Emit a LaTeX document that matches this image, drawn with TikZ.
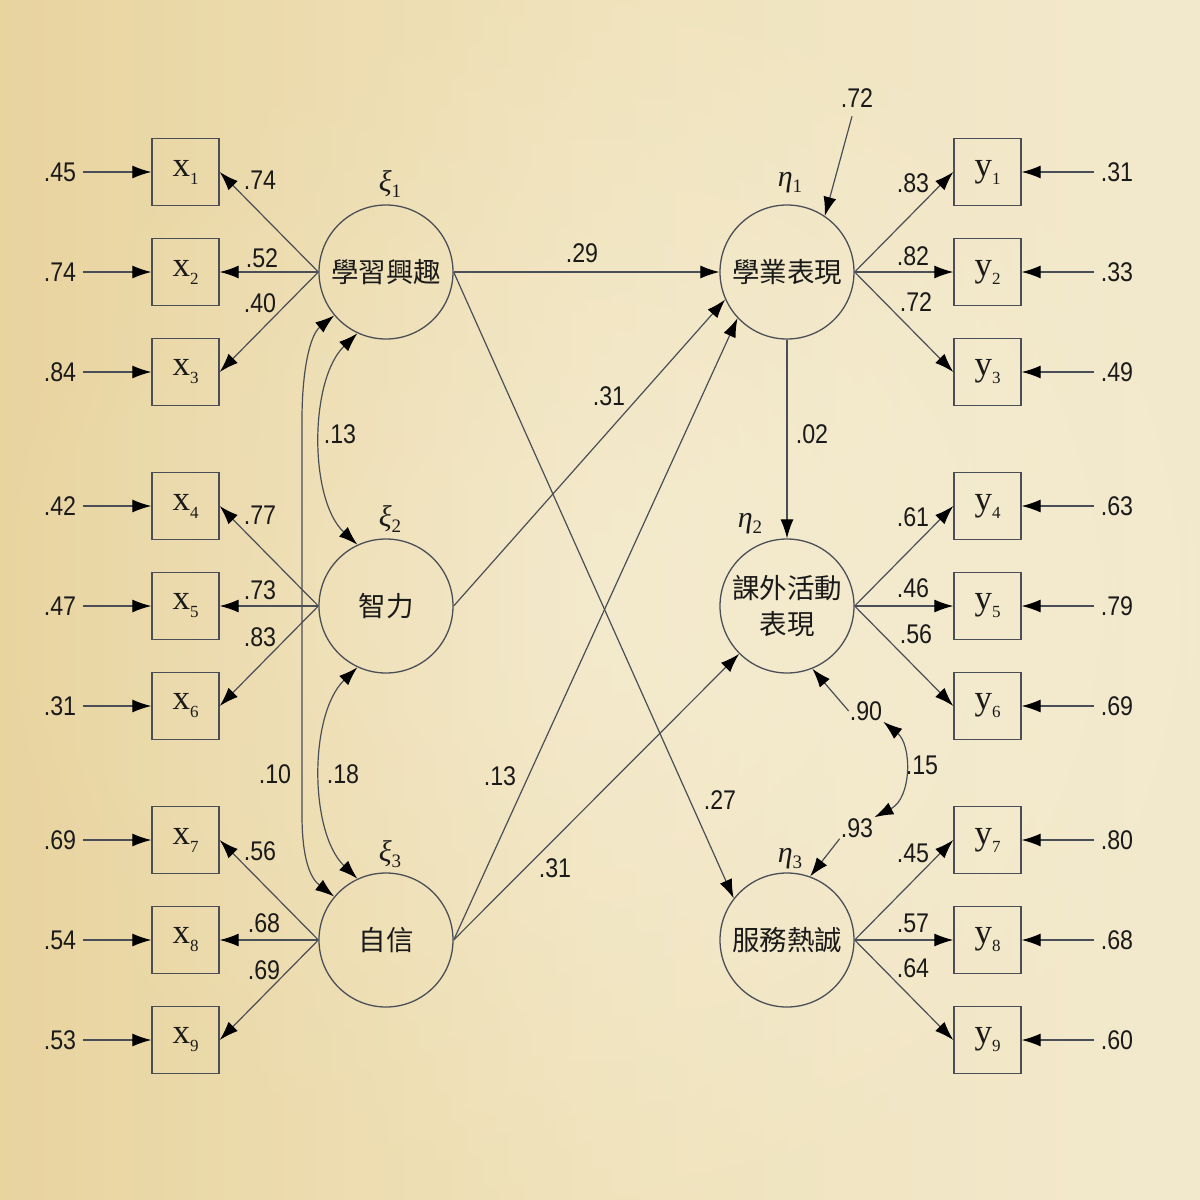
\documentclass[tikz,border=0pt]{standalone}
\usepackage{fontspec}
\setmainfont{Liberation Sans}[FakeStretch=0.86]
\newfontfamily\cjkfont{Noto Sans CJK TC}
\newfontfamily\boxfont{Liberation Serif}
\usetikzlibrary{arrows.meta}
\definecolor{ln}{HTML}{4A4E56}
\definecolor{bgL}{RGB}{230,207,150}
\definecolor{bgM}{RGB}{240,227,188}
\definecolor{bgR}{RGB}{244,236,212}
\definecolor{txt}{HTML}{1A1A1A}
\newcommand\osub[1]{\raisebox{-8pt}{\fontsize{17}{17}\selectfont #1}}
\newcommand\gsub[1]{\raisebox{-6pt}{\fontsize{19}{19}\selectfont\upshape #1}}
\begin{document}
\begin{tikzpicture}[x=1pt,y=-1pt,
  obs/.style={draw=ln, line width=1.4pt, minimum size=67pt, inner sep=0pt, text=txt,
    font=\boxfont\fontsize{35}{35}\selectfont},
  lat/.style={circle, draw=ln, line width=1.3pt, minimum size=134pt, inner sep=0pt, text=txt,
    align=center, font=\cjkfont\fontsize{27.5}{36}\selectfont},
  num/.style={font=\fontsize{27}{27}\selectfont, text=txt, inner sep=1pt},
  greek/.style={font=\boxfont\itshape\fontsize{30}{30}\selectfont, text=txt, inner sep=0pt},
  tip/.tip={Latex[length=19pt,width=13pt,color=black]},
  pth/.style={draw=ln, line width=1.2pt, -tip},
  dbl/.style={draw=ln, line width=1.2pt, tip-tip}
]
\useasboundingbox (0,0) rectangle (1200,1200);
\shade[left color=bgL, right color=bgR, middle color=bgM] (0,0) rectangle (1200,1200);
\shade[inner color=white, outer color=bgM, opacity=0.25] (0,0) rectangle (1200,1200);

% latent variables
\node[lat] (xi1) at (386,272) {學習興趣};
\node[lat] (xi2) at (386,606) {智力};
\node[lat] (xi3) at (386,940) {自信};
\node[lat] (eta1) at (787,272) {學業表現};
\node[lat] (eta2) at (787,606) {課外活動\\表現};
\node[lat] (eta3) at (787,940) {服務熱誠};

\node[greek] (g1) at (390,184) {ξ\gsub{1}};
\node[greek] (g2) at (390,519) {ξ\gsub{2}};
\node[greek] (g3) at (390,854) {ξ\gsub{3}};
\node[greek] (h1) at (790,183) {η\gsub{1}};
\node[greek] (h2) at (750,524) {η\gsub{2}};
\node[greek] (h3) at (790,859) {η\gsub{3}};

% x indicators
\foreach \i/\yy/\e/\lt/\ld/\lx/\ly in {
  1/172/.45/xi1/.74/260/180, 2/272/.74/xi1/.52/262/258, 3/372/.84/xi1/.40/260/303,
  4/506/.42/xi2/.77/260/515, 5/606/.47/xi2/.73/260/590, 6/706/.31/xi2/.83/260/637,
  7/840/.69/xi3/.56/260/851, 8/940/.54/xi3/.68/264/923, 9/1040/.53/xi3/.69/264/970}{
  \node[obs] (x\i) at (185.5,\yy) {x\osub{\i}};
  \node[num] (ex\i) at (60,\yy) {\e};
  \draw[pth, shorten <=6pt] (ex\i) -- (x\i);
  \draw[pth] (\lt.west) -- (x\i.east);
  \node[num] (lx\i) at (\lx,\ly) {\ld};
}
% y indicators
\foreach \i/\yy/\e/\lt/\ld/\lx/\ly in {
  1/172/.31/eta1/.83/913/183, 2/272/.33/eta1/.82/913/256, 3/372/.49/eta1/.72/916/302,
  4/506/.63/eta2/.61/913/517, 5/606/.79/eta2/.46/913/588, 6/706/.69/eta2/.56/916/634,
  7/840/.80/eta3/.45/913/853, 8/940/.68/eta3/.57/913/923, 9/1040/.60/eta3/.64/913/968}{
  \node[obs] (y\i) at (987.5,\yy) {y\osub{\i}};
  \node[num] (ey\i) at (1117,\yy) {\e};
  \draw[pth, shorten <=6pt] (ey\i) -- (y\i);
  \draw[pth] (\lt.east) -- (y\i.west);
  \node[num] (ly\i) at (\lx,\ly) {\ld};
}

% structural paths
\draw[pth] (xi1.east) -- (eta1.west);
\node[num] (p1) at (582,253) {.29};
\draw[pth] (xi1.east) -- (eta3.142);
\node[num] (p2) at (720,800) {.27};
\draw[pth] (xi2.east) -- (eta1.204);
\node[num] (p3) at (609,396) {.31};
\draw[pth] (xi3.east) -- (eta1.223);
\node[num] (p4) at (500,776) {.13};
\draw[pth] (xi3.east) -- (eta2.225);
\node[num] (p5) at (555,868) {.31};
\draw[pth] (eta1.south) -- (eta2.north);
\node[num] (p6) at (812,434) {.02};

% correlations among xi
\draw[dbl] (xi1.245) .. controls (309,380) and (309,500) .. (xi2.115);
\node[num] (c1) at (340,434) {.13};
\draw[dbl] (xi2.245) .. controls (309,714) and (309,832) .. (xi3.115);
\node[num] (c2) at (343,774) {.18};
\draw[dbl] (xi1.220) .. controls (310,335) and (302,370) .. (302,420) -- (302,815)
  .. controls (302,858) and (310,878) .. (xi3.140);
\node[num] (c3) at (275,774) {.10};

% disturbances
\node[num] (d1) at (857,98) {.72};
\draw[pth, shorten <=8pt] (d1) -- (eta1.56);
\node[num] (d2) at (866,711) {.90};
\draw[pth] (d2.west) -- (eta2.-68);
\node[num] (d3) at (857,828) {.93};
\draw[pth] (d3.south west) -- (eta3.70);
\draw[dbl] (d2.south east) .. controls (912,745) and (912,798) .. (d3.north east);
\node[num] (d4) at (922,765) {.15};
\end{tikzpicture}
\end{document}
